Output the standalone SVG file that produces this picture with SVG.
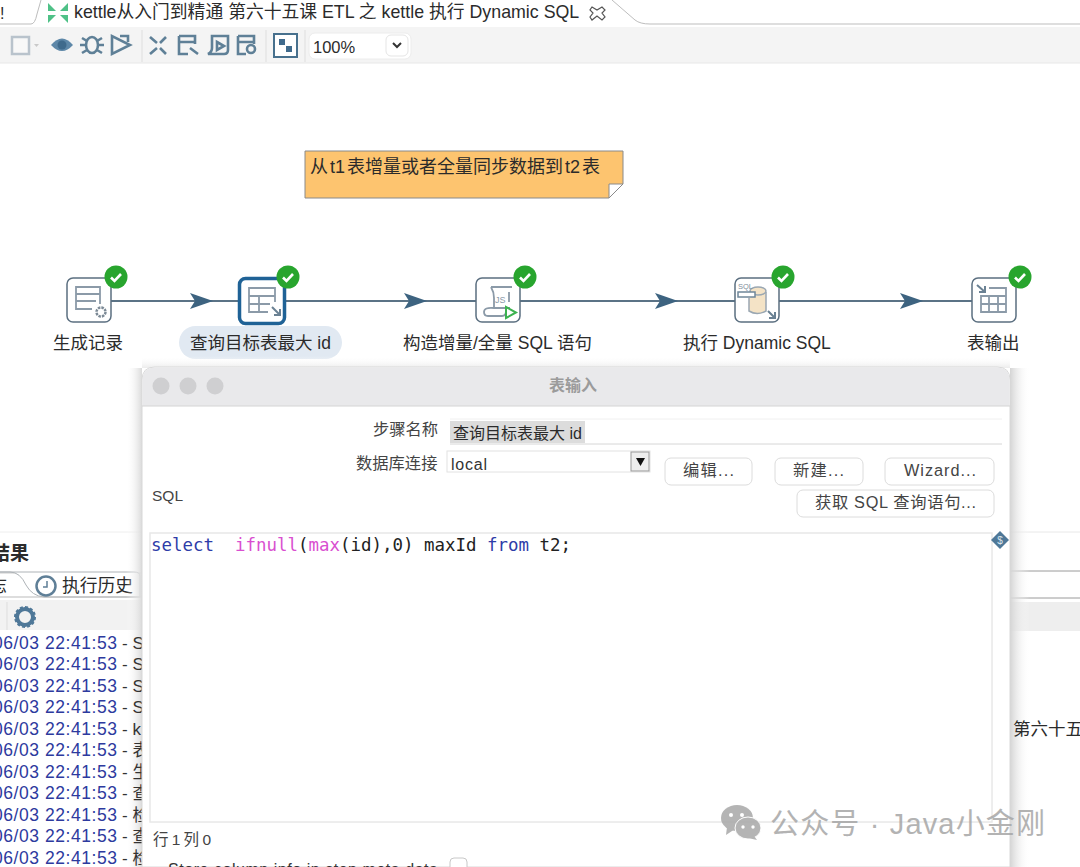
<svg xmlns="http://www.w3.org/2000/svg" width="1080" height="867" viewBox="0 0 1080 867">
<defs>
<style>
.t{font-family:"Liberation Sans","Noto Sans CJK SC",sans-serif;fill:#2b2b2b}
.n{font-size:17.5px}
.ui{font-size:16.3px;fill:#444}
.btn{fill:#fff;stroke:#dcdcdc;stroke-width:1}
.log{font-family:"Liberation Sans","Noto Sans CJK SC",sans-serif;font-size:17.5px;letter-spacing:.55px;fill:#2d3a9e}
.dash{font-family:"Liberation Sans","Noto Sans CJK SC",sans-serif;font-size:17px;fill:#333}
.code{font-family:"DejaVu Sans Mono","Liberation Mono",monospace;font-size:17.44px;fill:#222}
.box{fill:#fff;stroke:#5b6f80;stroke-width:1.5}
.ic{fill:none;stroke:#8b9aa8;stroke-width:1.8}
.tb{fill:none;stroke:#5f8097;stroke-width:2.6}
.conn{stroke:#5b7386;stroke-width:1.8;fill:none}
.head{fill:#3d6380}
.badge{fill:#28a52e}
.chk{fill:none;stroke:#fff;stroke-width:2.6}
.dot{fill:#cfcfd1}
.sep{stroke:#dedede;stroke-width:1}
</style>
<linearGradient id="shadow" x1="0" x2="1" y1="0" y2="0"><stop offset="0" stop-color="#d4d4d4"/><stop offset="1" stop-color="#fff" stop-opacity="0"/></linearGradient>
<linearGradient id="shadowL" x1="1" x2="0" y1="0" y2="0"><stop offset="0" stop-color="#dadada"/><stop offset="1" stop-color="#fff" stop-opacity="0"/></linearGradient>
<linearGradient id="shadowT" x1="0" x2="0" y1="1" y2="0"><stop offset="0" stop-color="#ececec"/><stop offset="1" stop-color="#fff" stop-opacity="0"/></linearGradient>
<g id="ok"><circle r="11.5" class="badge"/><path d="M-5 0.5L-1.5 4L5 -3" class="chk"/></g>
<path id="ah" d="M0 -8L23 0L0 8L5 0Z" class="head"/>
</defs>
<rect width="1080" height="867" fill="#fff"/>

<g id="tabbar">
<rect x="0" y="0" width="1080" height="27" fill="#fff"/>
<path d="M0 24H31Q35 24 37 14L41 0M612 0L635 20Q640 24 650 24H1080" fill="none" stroke="#bdbdbd" stroke-width="1"/>
<text class="t" x="0" y="19" font-size="16">!</text>
<g fill="#4fc187"><path d="M48 3L56 11L48 11ZM68 3L60 11L68 11ZM48 23L56 15L48 15ZM68 23L60 15L68 15Z"/></g>
<text class="t" x="74" y="18" font-size="17.800">kettle从入门到精通 第六十五课 ETL 之 kettle 执行 Dynamic SQL</text>
<path d="M592 7L597 10L602 7L605 10L602 13L605 17L602 20L597 16L592 20L590 17L593 13L590 10Z" fill="none" stroke="#555" stroke-width="1.200"/>
</g>

<g id="toolbar">
<rect x="0" y="27" width="1080" height="36" fill="#f4f4f4"/>
<line x1="0" y1="63" x2="1080" y2="63" stroke="#e8e8e8"/>
<rect x="12" y="37" width="17" height="17" fill="#f8f8f8" stroke="#b9c3cc" stroke-width="2.500"/>
<path d="M34 44h5l-2.500 3z" fill="#c9c9c9"/>
<path d="M51 45Q62 32 73 45Q62 57 51 45Z" fill="#5d87a8"/><circle cx="62" cy="45" r="4.500" fill="#3f6a8c"/>
<g class="tb"><ellipse cx="92" cy="45" rx="6" ry="8"/><path d="M82 38L87 41M102 38L97 41M80 45H86M104 45H98M82 53L87 50M102 53L97 50"/></g>
<path d="M112 36V54L130 45Z" class="tb"/><path d="M120 36H128V42" class="tb"/>
<line x1="142" y1="30" x2="142" y2="62" class="sep"/>
<path d="M150 37L157 43M166 37L160 43M150 54L157 48M166 54L160 48" class="tb"/>
<path d="M179 36H195V44M179 36V54H188M179 42H195M190 48L198 54" class="tb"/>
<path d="M212 36H228V50Q228 54 224 54H208Q212 52 212 48ZM217 42L224 46L217 50Z" class="tb"/>
<path d="M238 36H254V44M238 36V54H246M238 42H254" class="tb"/><circle cx="251" cy="49" r="4" class="tb"/>
<rect x="274" y="34" width="23" height="23" fill="#fff" stroke="#47708d" stroke-width="2"/>
<rect x="279" y="39" width="6" height="6" fill="#3f6a8c"/><rect x="286" y="46" width="6" height="6" fill="#3f6a8c"/>
<line x1="266" y1="30" x2="266" y2="62" class="sep"/>
<line x1="305" y1="30" x2="305" y2="62" class="sep"/>
<rect x="309" y="33" width="102" height="26" rx="6" fill="#fff" stroke="#ececec"/>
<text class="t" x="313" y="53" font-size="16.500">100%</text>
<rect x="386" y="35" width="22" height="21" rx="5" fill="#fff" stroke="#e5e5e5"/>
<path d="M393 43L397 47L401 43" fill="none" stroke="#333" stroke-width="2"/>
</g>

<g id="note">
<path d="M305 151H623V184L609 198H305Z" fill="#fdc46f" stroke="#8a8a8a" stroke-width="1"/>
<path d="M623 184H609V198Z" fill="#fff" stroke="#8a8a8a" stroke-width="1"/>
<text class="t" x="310" y="173" font-size="18" word-spacing="-3">从 t1 表增量或者全量同步数据到 t2 表</text>
</g>

<g id="connectors">
<line x1="111" y1="301" x2="239" y2="301" class="conn"/>
<line x1="285" y1="301" x2="476" y2="301" class="conn"/>
<line x1="520" y1="301" x2="735" y2="301" class="conn"/>
<line x1="779" y1="301" x2="972" y2="301" class="conn"/>
<use href="#ah" x="190" y="301"/>
<use href="#ah" x="404" y="301"/>
<use href="#ah" x="655" y="301"/>
<use href="#ah" x="900" y="301"/>
</g>

<g id="node-gen">
<rect x="67" y="278" width="44" height="44" rx="6" class="box"/>
<path d="M100 304V287H76V309H92M76 294H100M76 301H96" class="ic"/>
<circle cx="101" cy="312" r="4.500" fill="none" stroke="#7c8a96" stroke-width="2.500" stroke-dasharray="2.500 1"/>
<use href="#ok" x="116" y="277"/>
<text class="t n" x="53" y="348.500">生成记录</text>
</g>

<g id="node-query">
<rect x="179" y="326" width="163" height="33" rx="16.500" fill="#e1e9f2"/>
<rect x="239.500" y="278.500" width="45" height="45" rx="6" fill="#fff" stroke="#1f6296" stroke-width="3.500"/>
<path d="M275 302V288H249V312H268M249 296H275M249 304H270M259 296V312" class="ic"/>
<path d="M272 307L280 315M280 309V315H274" fill="none" stroke="#6a8193" stroke-width="2"/>
<use href="#ok" x="288" y="277"/>
<text class="t n" x="190" y="348.500">查询目标表最大 id</text>
</g>

<g id="node-js">
<rect x="476" y="278" width="44" height="44" rx="6" class="box"/>
<path d="M491 287H512M491 287Q494 292 494 298V308H510M494 308Q484 307 484 312Q484 316 488 316H502Q506 316 506 311M509 292V302" class="ic"/>
<text x="495" y="303" font-family="Liberation Sans,sans-serif" font-size="9" fill="#8b9aa8">JS</text>
<path d="M506 307V318L516 312.500Z" fill="#fff" stroke="#3cb24f" stroke-width="2"/>
<use href="#ok" x="525" y="277"/>
<text class="t n" x="403" y="348.500">构造增量/全量 SQL 语句</text>
</g>

<g id="node-dsql">
<rect x="735" y="278" width="44" height="44" rx="6" class="box"/>
<path d="M749 298V311Q757 316 766 311V292" fill="#f4e3c6" stroke="#9aa7b2" stroke-width="1.500"/>
<ellipse cx="758" cy="291" rx="8" ry="4" fill="#f4e3c6" stroke="#9aa7b2" stroke-width="1.500"/>
<rect x="738" y="292" width="17" height="5" fill="#fff" stroke="#6f8799" stroke-width="1.500"/>
<text x="738" y="289" font-family="Liberation Sans,sans-serif" font-size="7.500" fill="#7f8f9c">SQL</text>
<path d="M768 311L775 318M775 312V318H769" fill="none" stroke="#6a8193" stroke-width="2"/>
<use href="#ok" x="783" y="277"/>
<text class="t n" x="683" y="348.500">执行 Dynamic SQL</text>
</g>

<g id="node-out">
<rect x="972" y="278" width="44" height="44" rx="6" class="box"/>
<path d="M977 285L985 292M985 286V292H979" fill="none" stroke="#6a8193" stroke-width="2"/>
<path d="M989 288H1006V312H981V296H1006M981 304H1006M989 296V312M998 296V312" class="ic"/>
<use href="#ok" x="1020" y="277"/>
<text class="t n" x="967" y="348.500">表输出</text>
</g>

<g id="results-panel">
<rect x="0" y="530" width="142" height="337" fill="#fff"/>
<line x1="0" y1="532" x2="142" y2="532" stroke="#eee"/>
<text class="t" x="-9" y="560" font-size="19" font-weight="bold">结果</text>
<path d="M0 573H1080" stroke="#ccc" fill="none"/>
<path d="M0 572H10Q20 572 26 585Q32 596 44 597H140V576Q140 572 134 572H0" fill="#fff" stroke="#aeb3b7"/>
<path d="M0 597H1080" stroke="#bbb" fill="none"/>
<text class="t" x="-10" y="592" font-size="17">志</text>
<circle cx="46" cy="586" r="9.500" fill="#fff" stroke="#5f7f97" stroke-width="2.500"/>
<path d="M47 581V587H43" fill="none" stroke="#5f7f97" stroke-width="1.500"/>
<text class="t" x="62" y="592" font-size="17.800">执行历史</text>
<rect x="0" y="600" width="142" height="30" fill="#f2f2f2"/>
<line x1="7" y1="602" x2="7" y2="630" stroke="#ddd"/>
<circle cx="25" cy="617" r="8" fill="none" stroke="#4f7898" stroke-width="4"/>
<circle cx="25" cy="617" r="10" fill="none" stroke="#4f7898" stroke-width="2" stroke-dasharray="3 2.200"/>
<rect x="1010" y="532" width="70" height="335" fill="#fff"/>
<line x1="1010" y1="532" x2="1080" y2="532" stroke="#e8e8e8"/>
<line x1="1010" y1="571" x2="1080" y2="571" stroke="#9a9a9a"/>
<line x1="1010" y1="598" x2="1080" y2="598" stroke="#9a9a9a"/>
<rect x="1010" y="602" width="70" height="29" fill="#eeeeee"/>
<rect x="126" y="368" width="16" height="499" fill="url(#shadowL)"/>
<rect x="1010" y="368" width="20" height="499" fill="url(#shadow)"/>
<rect x="142" y="356" width="868" height="12" fill="url(#shadowT)"/>
<g class="log">
<text x="-7" y="649">06/03 22:41:53</text><text x="-7" y="670">06/03 22:41:53</text><text x="-7" y="692">06/03 22:41:53</text><text x="-7" y="713">06/03 22:41:53</text><text x="-7" y="735">06/03 22:41:53</text><text x="-7" y="756">06/03 22:41:53</text><text x="-7" y="778">06/03 22:41:53</text><text x="-7" y="799">06/03 22:41:53</text><text x="-7" y="821">06/03 22:41:53</text><text x="-7" y="842">06/03 22:41:53</text><text x="-7" y="864">06/03 22:41:53</text>
</g>
<g class="dash">
<text x="122" y="649">- S</text><text x="122" y="670">- S</text><text x="122" y="692">- S</text><text x="122" y="713">- S</text><text x="122" y="735">- k</text><text x="122" y="756">- 表</text><text x="122" y="778">- 生</text><text x="122" y="799">- 查</text><text x="122" y="821">- 检</text><text x="122" y="842">- 查</text><text x="122" y="864">- 检</text>
</g>
<text class="t" x="1013" y="735" font-size="17.500">第六十五</text>
</g>

<g id="dialog">
<path d="M142 867V380Q142 367 155 367H997Q1010 367 1010 380V867Z" fill="#fff" stroke="#d8d8d8"/>
<path d="M142.500 406V380Q142.500 367.500 155 367.500H997Q1009.500 367.500 1009.500 380V406Z" fill="#e9e9eb"/>
<line x1="142" y1="406" x2="1010" y2="406" stroke="#d4d4d4"/>
<circle cx="161" cy="386" r="8.500" class="dot"/><circle cx="188" cy="386" r="8.500" class="dot"/><circle cx="215" cy="386" r="8.500" class="dot"/>
<text class="t" x="549" y="391" font-size="16" style="fill:#9b9b9b;font-weight:bold">表输入</text>

<text class="t ui" x="373" y="435">步骤名称</text>
<rect x="450" y="419" width="552" height="25" fill="#fff"/>
<line x1="450" y1="444" x2="1002" y2="444" stroke="#d6d6d6"/>
<line x1="450" y1="419" x2="1002" y2="419" stroke="#f0f0f0"/>
<rect x="450" y="421" width="135" height="22" fill="#dcdcdc"/>
<text class="t" x="453" y="439" font-size="16">查询目标表最大 id</text>

<text class="t ui" x="356" y="469">数据库连接</text>
<rect x="447" y="451" width="203" height="21" fill="#fff" stroke="#e2e2e2"/>
<text class="t" x="451" y="470" font-size="16" style="fill:#333" textLength="36" lengthAdjust="spacing">local</text>
<rect x="631" y="452" width="18" height="19" fill="#eee" stroke="#999"/>
<path d="M636 458H645L640.500 466Z" fill="#111"/>

<rect class="btn" x="665" y="458" width="87" height="27" rx="6"/>
<text class="t ui" x="683" y="476" textLength="51" lengthAdjust="spacing">编辑...</text>
<rect class="btn" x="775" y="458" width="88" height="27" rx="6"/>
<text class="t ui" x="793" y="476" textLength="51" lengthAdjust="spacing">新建...</text>
<rect class="btn" x="885" y="458" width="109" height="27" rx="6"/>
<text class="t ui" x="904" y="476" textLength="72" lengthAdjust="spacing">Wizard...</text>
<rect class="btn" x="797" y="490" width="197" height="27" rx="6"/>
<text class="t ui" x="815" y="508" textLength="161" lengthAdjust="spacing">获取 SQL 查询语句...</text>
<text class="t" x="152" y="501" font-size="15.500" style="fill:#444">SQL</text>

<rect x="150" y="533" width="842" height="289" fill="#fff" stroke="#e8e8e8" stroke-width="1.500"/>
<text class="code" x="151" y="551" xml:space="preserve"><tspan style="fill:#2e3ca8">select</tspan>  <tspan style="fill:#d94fd0">ifnull</tspan>(<tspan style="fill:#d94fd0">max</tspan>(id),0) maxId <tspan style="fill:#2e3ca8">from</tspan> t2;</text>
<path d="M1000 531L1009 540L1000 549L991 540Z" fill="#4f7898"/>
<text x="1000" y="544" text-anchor="middle" font-family="Liberation Sans,sans-serif" font-size="10" fill="#dce6ee">$</text>

<text class="t" x="153" y="845" font-size="15.500" style="fill:#444" textLength="58" lengthAdjust="spacing">行 1 列 0</text>
<text class="t" x="168" y="875" font-size="16" style="fill:#333" textLength="270" lengthAdjust="spacing">Store column info in step meta data</text>
<rect x="450" y="858" width="17" height="17" rx="4" fill="#fff" stroke="#c8c8c8"/>
</g>

<g id="watermark" opacity="0.85">
<ellipse cx="737" cy="818" rx="16" ry="13" fill="#a8a8a8"/>
<path d="M727 827L726 835L735 829Z" fill="#a8a8a8"/>
<ellipse cx="748" cy="828" rx="13" ry="11" fill="#a8a8a8" stroke="#fff"/>
<path d="M754 836L757 840L748 838Z" fill="#a8a8a8"/>
<circle cx="731" cy="815" r="2" fill="#fff"/><circle cx="742" cy="815" r="2" fill="#fff"/>
<circle cx="743" cy="827" r="1.700" fill="#fff"/><circle cx="753" cy="827" r="1.700" fill="#fff"/>
<text x="770" y="834" font-family="Liberation Sans,'Noto Sans CJK SC',sans-serif" font-size="29" fill="#a6a6a6" textLength="275" lengthAdjust="spacing">公众号 · Java小金刚</text>
</g>
</svg>
